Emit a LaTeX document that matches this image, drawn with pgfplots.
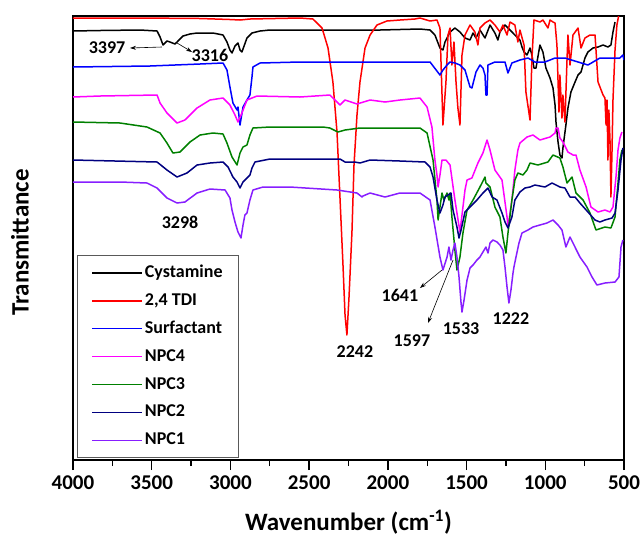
\documentclass[border=0pt]{standalone}
\usepackage{fontspec}
\setmainfont{Carlito}
\usepackage{pgfplots}
\pgfplotsset{compat=1.18}
\usetikzlibrary{arrows.meta}
\definecolor{npcfour}{RGB}{255,0,255}
\definecolor{npcthree}{RGB}{0,128,0}
\definecolor{npctwo}{RGB}{0,0,128}
\definecolor{npcone}{RGB}{135,30,255}

\begin{document}
\begin{tikzpicture}
\begin{axis}[
  scale only axis, width=551pt, height=444pt,
  x dir=reverse, xmin=500, xmax=4000,
  y dir=reverse, ymin=16, ymax=460,
  xtick={500,1000,...,4000}, minor x tick num=1,
  ytick=\empty,
  tick align=outside, xtick pos=bottom,
  major tick length=10pt, minor tick length=6pt,
  every tick/.style={black, line width=1.4pt},
  axis line style={line width=1.8pt},
  /pgf/number format/assume math mode=true,
  /pgf/number format/1000 sep={},
  ticklabel style={font=\fontsize{21}{21}\selectfont\bfseries},
  xticklabel style={yshift=-2pt},
  xlabel={Wavenumber (cm\textsuperscript{-1})},
  ylabel={Transmittance},
  label style={font=\fontsize{25}{25}\selectfont\bfseries},
  xlabel style={at={(axis description cs:0.5,0)}, anchor=center, yshift=-62pt},
  ylabel style={at={(axis description cs:-0.0962,0.49)}, anchor=center},
  every axis plot/.append style={no markers, line width=1.5pt, line join=round},
  legend cell align=left,
  legend image code/.code={\draw[#1] (0pt,0pt) -- (50pt,0pt);},
  legend style={at={(axis description cs:0.0073,0.4617)}, anchor=north west,
    draw=gray!70!black, line width=0.8pt, fill=white,
    font=\fontsize{18}{18}\selectfont\bfseries,
    inner xsep=14pt, inner ysep=7pt, row sep=6.9pt,
    nodes={inner sep=2pt, text height=13pt, text depth=4pt}},
]
% Cystamine
\addplot[black] coordinates {
(4000,31) (3828,30.5) (3574,30) (3466,31) (3447,37) (3428,45) (3416,43) (3403,41)
(3384,42) (3352,44) (3339,42) (3301,36) (3257,34) (3212,33) (3111,33) (3047,35)
(3022,42) (3003,50) (2990,53) (2971,46) (2952,43) (2939,50) (2927,52) (2895,38)
(2863,33) (2812,31) (2749,30) (2558,30) (2304,30) (2050,30) (1796,29) (1732,30)
(1701,35) (1669,48) (1650,50) (1637,42) (1605,32) (1574,28) (1542,32) (1510,38)
(1478,40) (1459,33) (1440,38) (1415,30) (1383,38) (1351,25) (1320,33) (1301,40)
(1288,32) (1256,25) (1224,30) (1193,35) (1161,40) (1148,47) (1135,52) (1116,55)
(1097,48) (1085,55) (1072,68) (1059,68) (1034,45) (1015,52) (996,68) (970,78)
(951,88) (938,105) (932,122) (919,142) (907,155) (894,158) (888,148) (869,125)
(856,108) (837,92) (811,82) (792,75) (773,72) (748,58) (729,52) (697,48) (665,47)
(633,45) (602,47) (583,45) (570,32) (557,22)
};
\addlegendentry{Cystamine}
% 2,4 TDI
\addplot[red] coordinates {
(4000,18) (3574,18) (3193,18.5) (3003,19.5) (2939,20) (2876,19) (2558,18) (2476,19)
(2418,28) (2380,48) (2349,82) (2323,132) (2304,198) (2285,265) (2272,315) (2260,335)
(2247,298) (2228,232) (2215,165) (2196,115) (2177,82) (2145,48) (2113,35) (2069,25)
(2006,21) (1923,20) (1828,19) (1796,18) (1732,21) (1688,20) (1669,28) (1650,125)
(1631,82) (1618,35) (1605,28) (1593,65) (1580,42) (1567,82) (1555,108) (1542,125)
(1529,55) (1510,35) (1478,25) (1447,32) (1428,45) (1415,28) (1383,23) (1351,20)
(1320,25) (1288,32) (1269,25) (1243,35) (1224,22) (1193,25) (1174,42) (1161,30)
(1135,45) (1123,92) (1097,120) (1085,60) (1072,20) (1034,22) (1015,20) (983,28)
(970,20) (951,22) (938,23) (926,45) (913,112) (907,75) (894,118) (888,95) (875,122)
(862,60) (856,35) (843,65) (824,35) (792,28) (773,48) (748,38) (716,35) (684,35)
(665,82) (633,95) (621,98) (614,125) (608,100) (602,160) (596,110) (589,140)
(583,197) (576,150) (570,100) (557,50) (545,25) (532,14) (519,8)
};
\addlegendentry{2,4 TDI}
% Surfactant
\addplot[blue] coordinates {
(4000,67) (3511,66) (3193,64) (3047,63) (3022,70) (3003,87) (2984,103) (2958,110)
(2952,107) (2939,125) (2920,107) (2895,100) (2876,95) (2863,77) (2857,67) (2812,63)
(2558,62) (2304,62) (1923,62) (1732,62) (1669,75) (1650,70) (1624,65) (1605,62)
(1574,63) (1542,65) (1510,70) (1478,87) (1466,88) (1440,72) (1415,65) (1396,68)
(1383,75) (1377,95) (1370,95) (1364,65) (1320,62) (1256,62) (1237,73) (1212,63)
(1161,60) (1110,58) (1066,62) (1002,62) (938,58) (875,58) (729,65) (653,58)
(526,58) (507,55) (500,60)
};
\addlegendentry{Surfactant}
% NPC4
\addplot[npcfour] coordinates {
(4000,97) (3828,96) (3466,95) (3447,103) (3403,113) (3339,123) (3289,120) (3212,108)
(3130,100) (3047,98) (3003,105) (2971,115) (2952,122) (2927,113) (2895,100) (2831,96)
(2558,97) (2368,95) (2304,105) (2272,100) (2196,104) (2113,100) (2018,102) (1923,100)
(1796,98) (1751,107) (1720,127) (1701,160) (1688,175) (1681,187) (1669,175)
(1656,160) (1631,160) (1605,165) (1574,200) (1542,232) (1529,215) (1510,190)
(1497,180) (1466,178) (1428,163) (1396,153) (1370,140) (1351,150) (1320,170)
(1275,180) (1243,217) (1237,227) (1212,200) (1193,170) (1174,150) (1161,143)
(1116,137) (1078,135) (1034,140) (970,137) (938,133) (932,128) (919,128) (907,138)
(888,142) (856,152) (824,155) (805,155) (780,170) (741,187) (710,207) (665,212)
(621,210) (589,212) (570,207) (551,177) (538,150) (526,138) (513,132)
};
\addlegendentry{NPC4}
% NPC3
\addplot[npcthree] coordinates {
(4000,122) (3701,123) (3530,127) (3447,133) (3403,143) (3365,153) (3320,152)
(3257,142) (3193,135) (3111,133) (3047,134) (3022,143) (2990,157) (2958,165)
(2939,153) (2920,147) (2895,145) (2876,135) (2857,128) (2749,127) (2412,127)
(2368,128) (2317,132) (2272,130) (2177,128) (1923,128) (1796,128) (1751,133)
(1713,160) (1688,200) (1681,220) (1656,193) (1644,200) (1624,193) (1612,200)
(1605,193) (1593,217) (1574,250) (1561,270) (1542,257) (1523,233) (1497,210)
(1459,200) (1415,187) (1383,177) (1377,183) (1351,187) (1320,207) (1288,217)
(1269,237) (1250,253) (1237,233) (1212,200) (1193,180) (1174,173) (1142,175)
(1116,170) (1097,163) (1047,165) (983,162) (951,155) (907,158) (888,167) (862,183)
(830,177) (805,193) (760,200) (716,213) (678,230) (621,227) (583,228) (557,217)
(538,183) (526,160) (513,150)
};
\addlegendentry{NPC3}
% NPC2
\addplot[npctwo] coordinates {
(4000,160) (3466,162) (3403,170) (3339,177) (3276,173) (3212,165) (3130,163)
(3047,162) (3015,167) (2984,177) (2958,182) (2939,188) (2920,182) (2876,175)
(2863,168) (2844,162) (2749,159) (2304,159) (2272,162) (2209,162) (2177,163)
(2113,160) (1923,161) (1764,162) (1732,167) (1713,177) (1688,200) (1669,213)
(1650,205) (1637,197) (1599,193) (1586,210) (1561,227) (1548,238) (1535,230)
(1510,212) (1478,207) (1434,200) (1396,193) (1364,188) (1338,197) (1307,200)
(1275,213) (1256,222) (1237,228) (1212,217) (1193,200) (1161,192) (1129,188)
(1097,187) (1066,185) (1002,187) (957,183) (907,187) (875,188) (843,197) (811,197)
(780,203) (729,212) (684,220) (653,222) (621,220) (576,218) (557,213) (538,190)
(519,160) (507,148)
};
\addlegendentry{NPC2}
% NPC1
\addplot[npcone] coordinates {
(4000,182) (3701,182) (3530,183) (3466,188) (3403,198) (3339,203) (3289,202)
(3212,193) (3130,189) (3034,190) (3003,198) (2990,210) (2971,222) (2952,232)
(2933,238) (2920,225) (2908,215) (2895,213) (2876,200) (2857,190) (2793,187)
(2622,187) (2323,190) (2196,193)
(2164,197) (2158,196) (2113,193) (2018,197) (1923,193) (1796,193) (1732,200)
(1701,227) (1669,257) (1650,270) (1624,257) (1612,247) (1599,260) (1586,250)
(1574,243) (1561,257) (1548,277) (1535,303) (1529,312) (1516,300) (1497,280)
(1478,268) (1459,265) (1434,260) (1415,257) (1396,252) (1377,247) (1364,253)
(1351,243) (1332,240) (1307,242) (1288,245) (1269,250) (1256,267) (1243,287)
(1231,303) (1218,290) (1205,273) (1199,267) (1186,257) (1167,243) (1148,233)
(1110,230) (1078,227) (1034,225) (989,223) (951,220) (919,225) (894,230) (869,247)
(843,237) (824,243) (780,257) (735,267) (703,277) (672,285) (621,283) (557,282)
(532,277) (519,247) (507,240)
};
\addlegendentry{NPC1}

% peak labels
\begin{scope}[font=\fontsize{18}{18}\selectfont\bfseries]
\node at (axis cs:3784,48) {3397};
\node at (axis cs:3130,55) {3316};
\node at (axis cs:3320,222) {3298};
\node at (axis cs:2209,352) {2242};
\node at (axis cs:1923,295) {1641};
\node at (axis cs:1847,341) {1597};
\node at (axis cs:1535,329) {1533};
\node at (axis cs:1218,319) {1222};
\end{scope}
\draw[-{Stealth[length=6pt,width=4pt]}, line width=0.6pt] (axis cs:3435,47) -- (axis cs:3638,48);
\draw[-{Stealth[length=6pt,width=4pt]}, line width=0.6pt] (axis cs:3339,43) -- (axis cs:3244,52);
\draw[-{Stealth[length=6pt,width=4pt]}, line width=0.6pt] (axis cs:1656,270) -- (axis cs:1796,288);
\draw[-{Stealth[length=6pt,width=4pt]}, line width=0.6pt] (axis cs:1586,260) -- (axis cs:1745,323);
\end{axis}
\path ([xshift=-73pt,yshift=-82pt]current axis.south west) rectangle ([xshift=20pt,yshift=16pt]current axis.north east);
\end{tikzpicture}
\end{document}
